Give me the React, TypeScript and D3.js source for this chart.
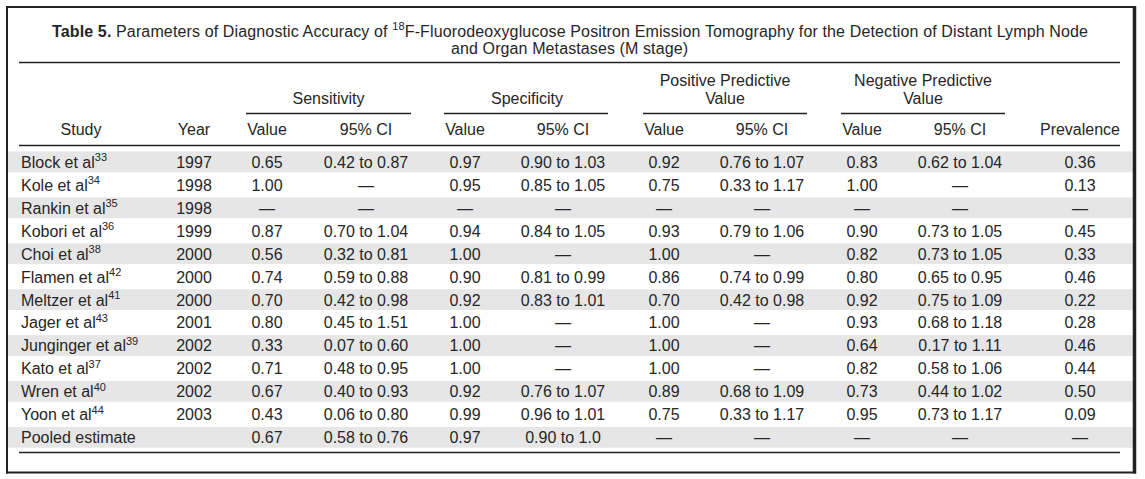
import React from "react";
import * as d3 from "d3";

const studies = ["Block et al", "Kole et al", "Rankin et al", "Kobori et al", "Choi et al", "Flamen et al", "Meltzer et al", "Jager et al", "Junginger et al", "Kato et al", "Wren et al", "Yoon et al", "Pooled estimate"];
const refs = ["33", "34", "35", "36", "38", "42", "41", "43", "39", "37", "40", "44", ""];
const years = ["1997", "1998", "1998", "1999", "2000", "2000", "2000", "2001", "2002", "2002", "2002", "2003", ""];
const D = "—";
const sensValue = ["0.65", "1.00", D, "0.87", "0.56", "0.74", "0.70", "0.80", "0.33", "0.71", "0.67", "0.43", "0.67"];
const sensCI = ["0.42 to 0.87", D, D, "0.70 to 1.04", "0.32 to 0.81", "0.59 to 0.88", "0.42 to 0.98", "0.45 to 1.51", "0.07 to 0.60", "0.48 to 0.95", "0.40 to 0.93", "0.06 to 0.80", "0.58 to 0.76"];
const specValue = ["0.97", "0.95", D, "0.94", "1.00", "0.90", "0.92", "1.00", "1.00", "1.00", "0.92", "0.99", "0.97"];
const specCI = ["0.90 to 1.03", "0.85 to 1.05", D, "0.84 to 1.05", D, "0.81 to 0.99", "0.83 to 1.01", D, D, D, "0.76 to 1.07", "0.96 to 1.01", "0.90 to 1.0"];
const ppvValue = ["0.92", "0.75", D, "0.93", "1.00", "0.86", "0.70", "1.00", "1.00", "1.00", "0.89", "0.75", D];
const ppvCI = ["0.76 to 1.07", "0.33 to 1.17", D, "0.79 to 1.06", D, "0.74 to 0.99", "0.42 to 0.98", D, D, D, "0.68 to 1.09", "0.33 to 1.17", D];
const npvValue = ["0.83", "1.00", D, "0.90", "0.82", "0.80", "0.92", "0.93", "0.64", "0.82", "0.73", "0.95", D];
const npvCI = ["0.62 to 1.04", D, D, "0.73 to 1.05", "0.73 to 1.05", "0.65 to 0.95", "0.75 to 1.09", "0.68 to 1.18", "0.17 to 1.11", "0.58 to 1.06", "0.44 to 1.02", "0.73 to 1.17", D];
const prevalence = ["0.36", "0.13", D, "0.45", "0.33", "0.46", "0.22", "0.28", "0.46", "0.44", "0.50", "0.09", D];

const groupLabels = [["Sensitivity"], ["Specificity"], ["Positive Predictive", "Value"], ["Negative Predictive", "Value"]];
const columnLabels = ["Year", "Value", "95% CI", "Value", "95% CI", "Value", "95% CI", "Value", "95% CI", "Prevalence"];

const FONT = "'Liberation Sans', Arial, Helvetica, sans-serif";
const TEXT = "#262626";

export default function App() {
  const W = 1145, H = 479;
  const n = studies.length;
  const pitch = 22.95;
  const top = 151.5;
  const y = d3.scaleBand<number>().domain(d3.range(n)).range([top, top + pitch * n]).paddingInner(0.09).paddingOuter(0.045);

  const cols = [years, sensValue, sensCI, specValue, specCI, ppvValue, ppvCI, npvValue, npvCI, prevalence];
  const colX = [194, 267, 366, 465, 563, 664, 762, 862, 960, 1080];
  const x = d3.scaleOrdinal<number, number>().domain(d3.range(cols.length)).range(colX);
  const groupX = [328.5, 527, 725, 923];

  return (
    <svg width={W} height={H} style={{ position: "absolute", left: 0, top: 0, display: "block" }} fontFamily={FONT} fill={TEXT}>
      <rect x={0} y={0} width={W} height={H} fill="#fff" />
      {/* row shading */}
      {d3.range(n).filter((i) => i % 2 === 0).map((i) => (
        <rect key={"b" + i} x={8} y={top + pitch * i} width={1125} height={20.8} fill="#e6e6e6" />
      ))}
      {/* frame */}
      <line x1={7} x2={7} y1={6} y2={473.5} stroke="#222" strokeWidth={2} />
      <line x1={6} x2={1136} y1={7} y2={7} stroke="#222" strokeWidth={2} />
      <line x1={1134.5} x2={1134.5} y1={6} y2={473.5} stroke="#222" strokeWidth={3.5} />
      <line x1={6} x2={1136} y1={472.5} y2={472.5} stroke="#222" strokeWidth={2} />

      {/* title */}
      <text x={52} y={36.5} fontSize={16} textLength={1036} lengthAdjust="spacing">
        <tspan fontWeight="bold">Table 5.</tspan>
        <tspan> Parameters of Diagnostic Accuracy of </tspan>
        <tspan fontSize={11} dy={-6.5}>18</tspan>
        <tspan dy={6.5}>F-Fluorodeoxyglucose Positron Emission Tomography for the Detection of Distant Lymph Node</tspan>
      </text>
      <text x={451} y={54.3} fontSize={16} textLength={237} lengthAdjust="spacing">and Organ Metastases (M stage)</text>

      {/* rules */}
      <line x1={19} x2={1120} y1={62.5} y2={62.5} stroke="#222" strokeWidth={1.3} />
      <line x1={19} x2={1120} y1={145.5} y2={145.5} stroke="#222" strokeWidth={1.3} />
      <line x1={19} x2={1120} y1={452.5} y2={452.5} stroke="#222" strokeWidth={1.3} />

      {/* group headers */}
      {groupLabels.map((lines, g) => (
        <g key={"g" + g}>
          {lines.map((t, k) => (
            <text key={k} x={groupX[g]} y={lines.length === 1 ? 104.3 : 86 + k * 18.3} textAnchor="middle" fontSize={16}>{t}</text>
          ))}
          <line x1={colX[1 + g * 2] - 21} x2={colX[2 + g * 2] + 45} y1={113.5} y2={113.5} stroke="#222" strokeWidth={1.3} />
        </g>
      ))}

      {/* column headers */}
      <text x={81} y={135} textAnchor="middle" fontSize={16}>Study</text>
      {columnLabels.map((t, c) => (
        <text key={"c" + c} x={x(c)} y={135} textAnchor="middle" fontSize={16}>{t}</text>
      ))}

      {/* body */}
      {d3.range(n).map((i) => {
        const base = (y(i) as number) + 15.3;
        return (
          <g key={"r" + i} fontSize={16}>
            <text x={21} y={base}>
              {studies[i]}
              {refs[i] ? <tspan fontSize={11} dy={-6.5}>{refs[i]}</tspan> : null}
            </text>
            {cols.map((col, c) => (
              <text key={c} x={x(c)} y={base} textAnchor="middle">{col[i]}</text>
            ))}
          </g>
        );
      })}
    </svg>
  );
}
